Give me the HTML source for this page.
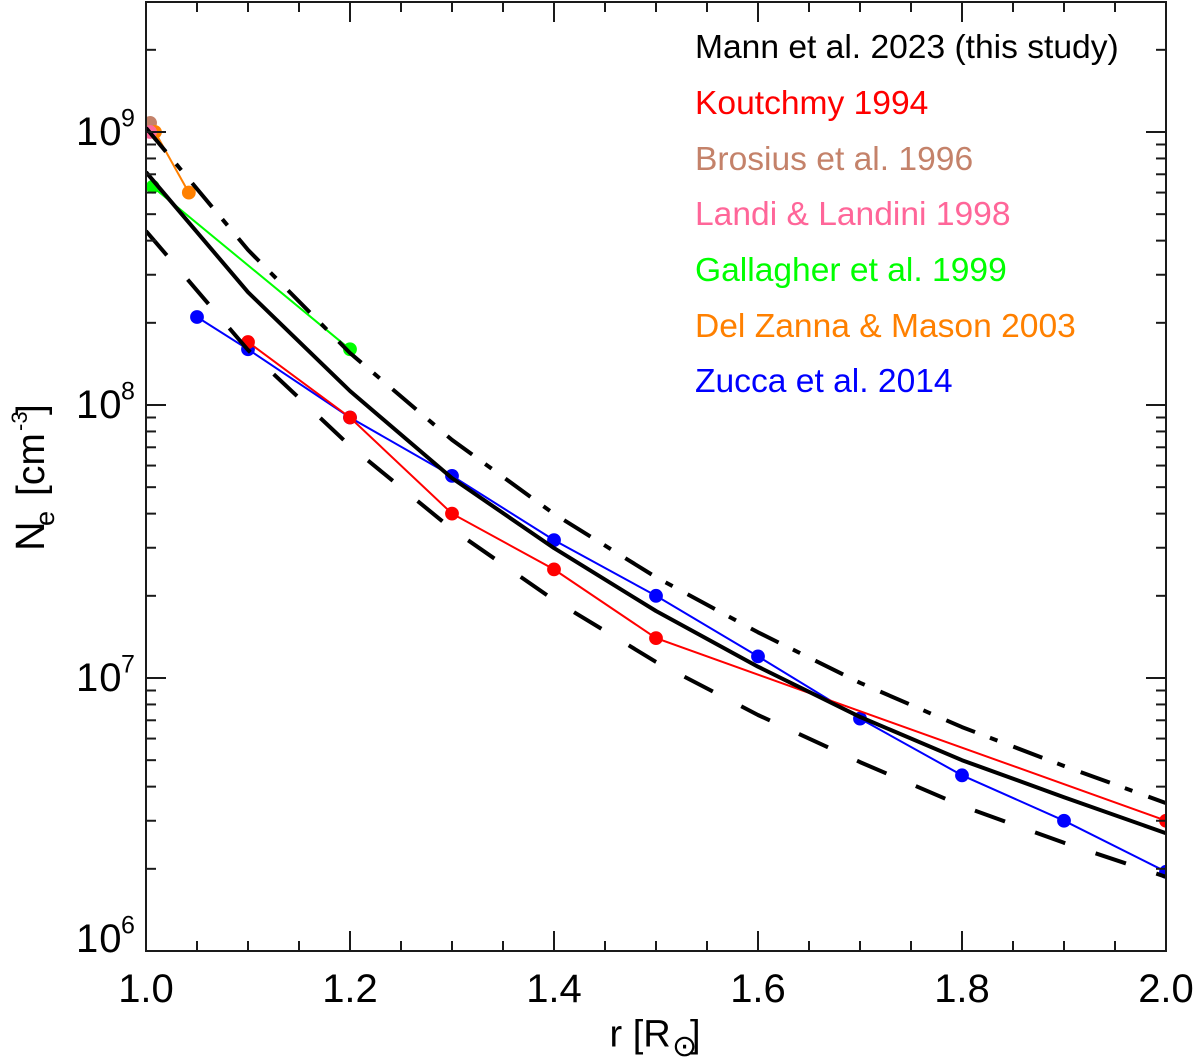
<!DOCTYPE html>
<html lang="en">
<head>
<meta charset="utf-8">
<title>Coronal electron density vs. radius</title>
<style>
html,body{margin:0;padding:0;background:#fff;}
svg{display:block;font-family:"Liberation Sans",Arial,sans-serif;}
</style>
</head>
<body>
<svg id="chart" xmlns="http://www.w3.org/2000/svg" width="1200" height="1062" viewBox="0 0 1200 1062">
  <defs><clipPath id="plot-clip"><rect x="146" y="2" width="1020" height="949"/></clipPath></defs>
  <g id="marks" clip-path="url(#plot-clip)"></g>
  <g id="axes"></g>
  <g id="legend" font-size="33.6">
    <text x="695" y="58" fill="#000000">Mann et al. 2023 (this study)</text>
    <text x="695" y="114" fill="#ff0000">Koutchmy 1994</text>
    <text x="695" y="170" fill="#c4826a">Brosius et al. 1996</text>
    <text x="695" y="225" fill="#ff6699">Landi &amp; Landini 1998</text>
    <text x="695" y="281" fill="#00ff00">Gallagher et al. 1999</text>
    <text x="695" y="337" fill="#ff8000">Del Zanna &amp; Mason 2003</text>
    <text x="695" y="392" fill="#0000ff">Zucca et al. 2014</text>
  </g>
  <text y="1046.5" font-size="38"><tspan x="609.5">r [R</tspan><tspan x="672" y="1056" font-size="30" font-family="'DejaVu Sans',sans-serif">⊙</tspan><tspan x="690" y="1046.5">]</tspan></text>
  <text transform="translate(44,548) rotate(-90)" font-size="39"><tspan x="-3" y="0" font-size="41">N</tspan><tspan x="22" y="10" font-size="27">e</tspan><tspan x="52" y="0">[cm</tspan><tspan x="117" y="-17" font-size="22">-3</tspan><tspan x="133" y="0">]</tspan></text>
</svg>
<script>
// ---- data ----
const xTickLabels = ["1.0", "1.2", "1.4", "1.6", "1.8", "2.0"];
const yTickExponents = [6, 7, 8, 9];

const modelR = [1.0, 1.1, 1.2, 1.3, 1.4, 1.5, 1.6, 1.7, 1.8, 1.9, 2.0];
const mannMean = [7.13e8, 2.59e8, 1.125e8, 5.4e7, 2.99e7, 1.76e7, 1.10e7, 7.2e6, 5.0e6, 3.66e6, 2.7e6];
const mannUpper = [1.035e9, 3.70e8, 1.55e8, 7.45e7, 3.99e7, 2.34e7, 1.47e7, 9.6e6, 6.61e6, 4.76e6, 3.48e6];
const mannLower = [4.34e8, 1.59e8, 7.08e7, 3.51e7, 1.93e7, 1.145e7, 7.32e6, 4.92e6, 3.40e6, 2.49e6, 1.87e6];

const gallagherR = [1.0066, 1.2];
const gallagherN = [6.3e8, 1.6e8];
const brosiusR = [1.004];
const brosiusN = [1.08e9];
const delZannaR = [1.0088, 1.042];
const delZannaN = [1.0e9, 6.0e8];
const landiR = [1.004];
const landiN = [1.0e9];
const zuccaR = [1.05, 1.1, 1.2, 1.3, 1.4, 1.5, 1.6, 1.7, 1.8, 1.9, 2.0];
const zuccaN = [2.1e8, 1.6e8, 9.0e7, 5.5e7, 3.2e7, 2.0e7, 1.2e7, 7.1e6, 4.4e6, 3.0e6, 1.95e6];
const koutchmyR = [1.1, 1.2, 1.3, 1.4, 1.5, 2.0];
const koutchmyN = [1.7e8, 9.0e7, 4.0e7, 2.5e7, 1.4e7, 3.0e6];

// ---- axis functions ----
const NS = "http://www.w3.org/2000/svg";
const xScale = r => 146 + 1020 * (r - 1);
const yScale = n => 951 - 273 * (Math.log10(n) - 6);
const marks = document.getElementById("marks");
const axes = document.getElementById("axes");

function make(tag, attrs, parent) {
  const el = document.createElementNS(NS, tag);
  for (const k in attrs) el.setAttribute(k, attrs[k]);
  parent.appendChild(el);
  return el;
}
function pointsOf(rs, ns) {
  return rs.map((r, i) => xScale(r).toFixed(1) + "," + yScale(ns[i]).toFixed(1)).join(" ");
}
function drawSeries(name, rs, ns, color) {
  if (rs.length > 1) {
    const line = make("polyline", {points: pointsOf(rs, ns), fill: "none", stroke: color, "stroke-width": 2}, marks);
    
    
  }
  rs.forEach((r, i) => {
    const dot = make("circle", {cx: xScale(r), cy: yScale(ns[i]), r: 6.9, fill: color}, marks);
    
    
  });
}
function drawModel(name, ns, dash) {
  const attrs = {points: pointsOf(modelR, ns), fill: "none", stroke: "#000", "stroke-width": 4, "stroke-linejoin": "round"};
  if (dash) attrs["stroke-dasharray"] = dash;
  const line = make("polyline", attrs, marks);
  
  
}

drawSeries("gallagher", gallagherR, gallagherN, "#00ff00");
drawSeries("brosius", brosiusR, brosiusN, "#c4826a");
drawSeries("del-zanna", delZannaR, delZannaN, "#ff8000");
drawSeries("landi", landiR, landiN, "#ff6699");
drawSeries("zucca", zuccaR, zuccaN, "#0000ff");
drawSeries("koutchmy", koutchmyR, koutchmyN, "#ff0000");
drawModel("mann-upper-line", mannUpper, "31 16 8 17");
drawModel("mann-lower-line", mannLower, "32 32");
drawModel("mann-mean-line", mannMean, null);

// ---- axes ----
const frame = make("rect", {x: 146, y: 2, width: 1020, height: 949, fill: "none", stroke: "#1a1a1a", "stroke-width": 2}, axes);



function tick(x1, y1, x2, y2, name) {
  const t = make("line", {x1, y1, x2, y2, stroke: "#1a1a1a", "stroke-width": 2}, axes);
  
  
}
// x ticks every 0.05, major every 0.2
for (let i = 1; i < 20; i++) {
  const r = 1 + i * 0.05;
  const len = i % 4 === 0 ? 20 : 10;
  tick(xScale(r), 951, xScale(r), 951 - len, "x-tick");
  tick(xScale(r), 2, xScale(r), 2 + len, "x-tick-top");
}
// y ticks: logarithmic
for (let e = 6; e <= 9; e++) {
  for (let m = 1; m <= 9; m++) {
    const y = yScale(m * Math.pow(10, e));
    if (y < 3 || y > 950) continue;
    const len = m === 1 ? 20 : 10;
    tick(146, y, 146 + len, y, "y-tick");
    tick(1166, y, 1166 - len, y, "y-tick-right");
  }
}
xTickLabels.forEach(lab => {
  const t = make("text", {x: xScale(parseFloat(lab)), y: 1002, "font-size": 40, "text-anchor": "middle"}, axes);
  t.textContent = lab;
  
  
});
yTickExponents.forEach(e => {
  const y = yScale(Math.pow(10, e));
  const base = e === 6 ? 952 : y + 13;
  const t = make("text", {x: 76, y: base, "font-size": 40, "letter-spacing": 1}, axes);
  t.textContent = "10";
  
  
  const s = make("text", {x: 121, y: base - 18.5, "font-size": 25}, axes);
  s.textContent = String(e);
  
  
});
</script>
</body>
</html>
